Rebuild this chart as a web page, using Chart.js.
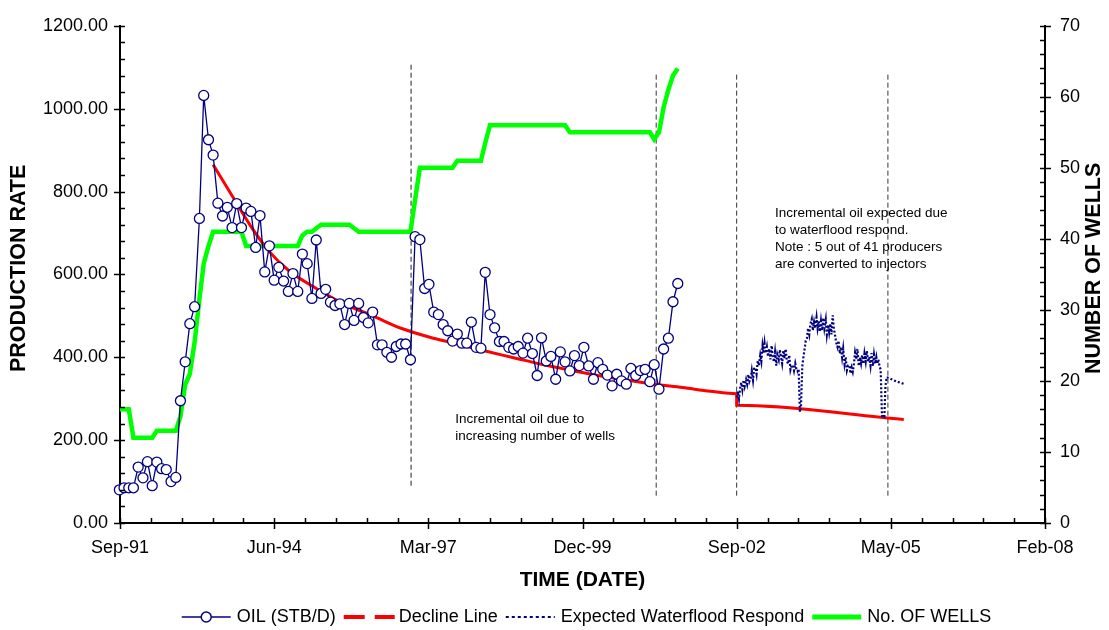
<!DOCTYPE html>
<html>
<head>
<meta charset="utf-8">
<title>Production rate and number of wells</title>
<script src="https://cdn.jsdelivr.net/npm/chart.js@4.4.1/dist/chart.umd.min.js"></script>
<style>
  html, body { margin: 0; padding: 0; background: #fff; }
  #wrap { width: 1109px; height: 630px; }
</style>
</head>
<body>
<div id="wrap"><canvas id="chart" width="1109" height="630"></canvas></div>
<script>
// monthly production data (Sep-91 .. Aug-01)
var oilMonths = [
  '1991-09', '1991-10', '1991-11', '1991-12',
  '1992-01', '1992-02', '1992-03', '1992-04', '1992-05', '1992-06', '1992-07', '1992-08', '1992-09', '1992-10', '1992-11', '1992-12',
  '1993-01', '1993-02', '1993-03', '1993-04', '1993-05', '1993-06', '1993-07', '1993-08', '1993-09', '1993-10', '1993-11', '1993-12',
  '1994-01', '1994-02', '1994-03', '1994-04', '1994-05', '1994-06', '1994-07', '1994-08', '1994-09', '1994-10', '1994-11', '1994-12',
  '1995-01', '1995-02', '1995-03', '1995-04', '1995-05', '1995-06', '1995-07', '1995-08', '1995-09', '1995-10', '1995-11', '1995-12',
  '1996-01', '1996-02', '1996-03', '1996-04', '1996-05', '1996-06', '1996-07', '1996-08', '1996-09', '1996-10', '1996-11', '1996-12',
  '1997-01', '1997-02', '1997-03', '1997-04', '1997-05', '1997-06', '1997-07', '1997-08', '1997-09', '1997-10', '1997-11', '1997-12',
  '1998-01', '1998-02', '1998-03', '1998-04', '1998-05', '1998-06', '1998-07', '1998-08', '1998-09', '1998-10', '1998-11', '1998-12',
  '1999-01', '1999-02', '1999-03', '1999-04', '1999-05', '1999-06', '1999-07', '1999-08', '1999-09', '1999-10', '1999-11', '1999-12',
  '2000-01', '2000-02', '2000-03', '2000-04', '2000-05', '2000-06', '2000-07', '2000-08', '2000-09', '2000-10', '2000-11', '2000-12',
  '2001-01', '2001-02', '2001-03', '2001-04', '2001-05', '2001-06', '2001-07', '2001-08'
];

var oilRate = [
  80, 85, 85, 85,
  135, 109, 148, 90, 147, 131, 129, 100, 110, 295, 389, 481,
  522, 735, 1032, 925, 888, 772, 741, 762, 713, 771, 713, 760,
  752, 665, 742, 606, 669, 586, 617, 584, 559, 602, 559, 649,
  626, 542, 683, 554, 564, 533, 525, 529, 479, 530, 489, 530,
  496, 483, 509, 430, 430, 412, 400, 426, 432, 432, 394, 691,
  684, 566, 576, 509, 503, 479, 464, 439, 456, 434, 434, 485,
  424, 422, 605, 503, 471, 438, 438, 424, 420, 426, 410, 446,
  409, 356, 447, 391, 402, 347, 413, 389, 367, 404, 380, 424,
  379, 347, 387, 371, 357, 331, 359, 343, 335, 373, 356, 368,
  371, 341, 382, 323, 420, 446, 534, 578
];

var wellCount = [
  16, 16, 16, 12,
  12, 12, 12, 12, 13, 13, 13, 13, 13, 15, 19.5, 21,
  25.5, 31.5, 36.5, 39, 41, 41, 41, 41, 41, 41, 41, 39,
  39, 39, 39, 39, 39, 39, 39, 39, 39, 39, 39, 40.5,
  41, 41, 41.5, 42, 42, 42, 42, 42, 42, 42, 41.5, 41,
  41, 41, 41, 41, 41, 41, 41, 41, 41, 41, 41, 45.5,
  50, 50, 50, 50, 50, 50, 50, 50, 51, 51, 51, 51,
  51, 51, 53.5, 56, 56, 56, 56, 56, 56, 56, 56, 56,
  56, 56, 56, 56, 56, 56, 56, 56, 55, 55, 55, 55,
  55, 55, 55, 55, 55, 55, 55, 55, 55, 55, 55, 55,
  55, 55, 54, 55, 58.5, 61, 63, 64
];

// decline line
var declineDates = [
  '1993-05-15', '1993-09-15', '1994-01-15', '1994-05-15', '1994-09-15', '1995-03-15',
  '1995-09-15', '1996-03-15', '1996-09-15', '1997-03-15', '1997-09-15', '1998-03-15',
  '1998-09-15', '1999-03-15', '1999-09-15', '2000-03-15', '2000-09-15', '2001-03-15',
  '2001-09-15', '2002-03-15', '2002-09-01', '2002-09-01', '2005-08-20'
];
var declineRate = [
  865, 790, 716, 655, 610, 566,
  528, 500, 470, 449, 432, 415,
  399, 383, 369, 356, 345, 335,
  327, 318, 312, 284, 250
];

// expected waterflood respond (roughly weekly readings)
var waterfloodDates = [
  '2002-09-01', '2002-09-08', '2002-09-16', '2002-09-23',
  '2002-10-01', '2002-10-08', '2002-10-16', '2002-10-23',
  '2002-11-01', '2002-11-08', '2002-11-16', '2002-11-23',
  '2002-12-01', '2002-12-08', '2002-12-16', '2002-12-23',
  '2003-01-01', '2003-01-08', '2003-01-16', '2003-01-23',
  '2003-02-01', '2003-02-08', '2003-02-16', '2003-02-23',
  '2003-03-01', '2003-03-08', '2003-03-16', '2003-03-23',
  '2003-04-01', '2003-04-08', '2003-04-16', '2003-04-23',
  '2003-05-01', '2003-05-08', '2003-05-16', '2003-05-23',
  '2003-06-01', '2003-06-08', '2003-06-16', '2003-06-23',
  '2003-07-01', '2003-07-08', '2003-07-16', '2003-07-23',
  '2003-08-01', '2003-08-08', '2003-08-16', '2003-08-23',
  '2003-09-01', '2003-09-08', '2003-09-16', '2003-09-23',
  '2003-10-01', '2003-10-08', '2003-10-16', '2003-10-23',
  '2003-11-01', '2003-11-08', '2003-11-16', '2003-11-23',
  '2003-12-01', '2003-12-08', '2003-12-16', '2003-12-23',
  '2004-01-01', '2004-01-08', '2004-01-16', '2004-01-23',
  '2004-02-01', '2004-02-08', '2004-02-16', '2004-02-23',
  '2004-03-01', '2004-03-08', '2004-03-16', '2004-03-23',
  '2004-04-01', '2004-04-08', '2004-04-16', '2004-04-23',
  '2004-05-01', '2004-05-08', '2004-05-16', '2004-05-23',
  '2004-06-01', '2004-06-08', '2004-06-16', '2004-06-23',
  '2004-07-01', '2004-07-08', '2004-07-16', '2004-07-23',
  '2004-08-01', '2004-08-08', '2004-08-16', '2004-08-23',
  '2004-09-01', '2004-09-08', '2004-09-16', '2004-09-23',
  '2004-10-01', '2004-10-08', '2004-10-16', '2004-10-23',
  '2004-11-01', '2004-11-08', '2004-11-16', '2004-11-23',
  '2004-12-01', '2004-12-08', '2004-12-16', '2004-12-23',
  '2005-01-01', '2005-01-08', '2005-01-16', '2005-01-23',
  '2005-02-01', '2005-02-08', '2005-02-16', '2005-02-23',
  '2005-03-01', '2005-03-08', '2005-03-16', '2005-03-23',
  '2005-04-01', '2005-04-08', '2005-04-16', '2005-04-23',
  '2005-05-01', '2005-06-01', '2005-07-01', '2005-08-20'
];
var waterfloodRate = [
  303, 318, 300, 325,
  339, 322, 345, 330,
  346, 335, 358, 342,
  350, 368, 345, 372,
  375, 360, 392, 380,
  405, 390, 428, 410,
  433, 410, 425, 402,
  420, 395, 428, 400,
  389, 412, 380, 406,
  394, 418, 400, 385,
  416, 398, 420, 392,
  384, 405, 370, 380,
  381, 368, 385, 372,
  366, 372, 268, 280,
  380, 400, 421, 440,
  446, 470, 455, 480,
  492, 465, 485, 470,
  496, 470, 488, 462,
  487, 465, 495, 470,
  491, 455, 478, 460,
  481, 455, 501, 470,
  451, 435, 425, 440,
  409, 425, 400, 421,
  384, 400, 369, 380,
  381, 361, 375, 365,
  386, 411, 395, 420,
  379, 400, 385, 405,
  384, 409, 390, 415,
  389, 401, 380, 410,
  379, 406, 385, 400,
  384, 395, 378, 370,
  253, 262, 258, 330,
  352, 347, 342, 336
];

// dashed event lines
var markerDates = ['1996-11-19', '2001-03-28', '2002-09-01', '2005-05-09'];
var markerBottom = [90, 66, 66, 66];
var markerTop = [1110, 1086, 1086, 1086];

var FONT = "'Liberation Sans', Arial, Helvetica, sans-serif";
var MONTHS = ['Jan', 'Feb', 'Mar', 'Apr', 'May', 'Jun', 'Jul', 'Aug', 'Sep', 'Oct', 'Nov', 'Dec'];
var NAVY = '#000080';

// dates are kept as spreadsheet serial day numbers on a linear axis
function toSerial(s) {
  var p = s.split('-').map(Number);
  return (Date.UTC(p[0], p[1] - 1, p[2] || 15) - Date.UTC(1899, 11, 30)) / 86400000;
}
function serialLabel(v) {
  var d = new Date(Date.UTC(1899, 11, 30) + v * 86400000);
  return MONTHS[d.getUTCMonth()] + '-' + String(d.getUTCFullYear()).slice(2);
}
function toPoints(dates, values) {
  return dates.map(function (d, i) { return { x: toSerial(d), y: values[i] }; });
}

var datasets = [
  {
    label: 'OIL (STB/D)',
    data: toPoints(oilMonths, oilRate),
    yAxisID: 'y',
    borderColor: NAVY,
    borderWidth: 1.3,
    pointRadius: 5,
    pointBorderWidth: 1.3,
    pointBorderColor: NAVY,
    pointBackgroundColor: '#fff',
    tension: 0,
    clip: false,
    order: 0
  },
  {
    label: 'Expected Waterflood Respond',
    data: toPoints(waterfloodDates, waterfloodRate),
    yAxisID: 'y',
    borderColor: NAVY,
    borderWidth: 2.2,
    borderDash: [2, 2],
    pointRadius: 0,
    tension: 0,
    order: 1
  },
  {
    label: 'Decline Line',
    data: toPoints(declineDates, declineRate),
    yAxisID: 'y',
    borderColor: '#ff0000',
    borderWidth: 3,
    pointRadius: 0,
    cubicInterpolationMode: 'monotone',
    order: 2
  },
  {
    label: 'No. OF WELLS',
    data: toPoints(oilMonths, wellCount),
    yAxisID: 'y1',
    borderColor: '#00ff00',
    borderWidth: 4.5,
    pointRadius: 0,
    tension: 0,
    order: 3
  }
];

markerDates.forEach(function (d, i) {
  datasets.push({
    label: 'marker',
    data: [{ x: toSerial(d), y: markerBottom[i] }, { x: toSerial(d), y: markerTop[i] }],
    yAxisID: 'y',
    borderColor: i === 0 ? '#222' : '#333',
    borderWidth: 1,
    borderDash: [5, 3],
    pointRadius: 0,
    order: 4
  });
});

var notes = [
  { date: '1997-09-01', value: 251, lines: ['Incremental oil due to', 'increasing number of wells'] },
  { date: '2003-05-07', value: 747, lines: ['Incremental oil expected due', 'to waterflood respond.', 'Note : 5 out of 41 producers', 'are converted to injectors'] }
];

var minorSteps = { x: 200, y: 40, y1: 2 };

function drawTickMarks(chart) {
  var ctx = chart.ctx;
  ctx.save();
  ctx.strokeStyle = '#000';
  ctx.lineWidth = 1.5;
  ['x', 'y', 'y1'].forEach(function (id) {
    var s = chart.scales[id];
    var major = s.options.ticks.stepSize;
    var minor = minorSteps[id];
    for (var v = s.min; v <= s.max + 1e-6; v += minor) {
      var q = (v - s.min) / major;
      var isMajor = Math.abs(q - Math.round(q)) < 1e-6;
      var p = Math.round(s.getPixelForValue(v)) + 0.5;
      ctx.beginPath();
      if (id === 'x') {
        ctx.moveTo(p, s.top - 5);
        ctx.lineTo(p, s.top + (isMajor ? 6 : 0));
      } else if (id === 'y') {
        ctx.moveTo(s.right - (isMajor ? 6 : 0), p);
        ctx.lineTo(s.right + 5, p);
      } else {
        ctx.moveTo(s.left - 5, p);
        ctx.lineTo(s.left + (isMajor ? 6 : 0), p);
      }
      ctx.stroke();
    }
  });
  ctx.restore();
}

function drawNotes(chart) {
  var ctx = chart.ctx;
  var xs = chart.scales.x, ys = chart.scales.y;
  ctx.save();
  ctx.fillStyle = '#000';
  ctx.font = '13.5px ' + FONT;
  ctx.textAlign = 'left';
  ctx.textBaseline = 'middle';
  notes.forEach(function (n) {
    var x = xs.getPixelForValue(toSerial(n.date));
    var y = ys.getPixelForValue(n.value);
    n.lines.forEach(function (line, i) { ctx.fillText(line, x, y + i * 16.8); });
  });
  ctx.restore();
}

// both value-axis titles read bottom to top
function drawAxisTitles(chart) {
  var ctx = chart.ctx, area = chart.chartArea;
  var midY = (area.top + area.bottom) / 2 - 6;
  [['PRODUCTION RATE', chart.scales.y.left + 19], ['NUMBER OF WELLS', chart.scales.y1.right - 15]].forEach(function (t) {
    ctx.save();
    ctx.translate(t[1], midY);
    ctx.rotate(-Math.PI / 2);
    ctx.font = 'bold 21.5px ' + FONT;
    ctx.fillStyle = '#000';
    ctx.textAlign = 'center';
    ctx.textBaseline = 'middle';
    ctx.fillText(t[0], 0, 0);
    ctx.restore();
  });
}

function drawLegend(chart) {
  var ctx = chart.ctx, area = chart.chartArea;
  var sampleW = 49, gapText = 6, gapItem = 8, y = 617;
  var items = [
    { text: 'OIL (STB/D)', sample: function (x) {
      ctx.strokeStyle = NAVY; ctx.lineWidth = 1.5; ctx.setLineDash([]);
      ctx.beginPath(); ctx.moveTo(x, y); ctx.lineTo(x + sampleW, y); ctx.stroke();
      ctx.fillStyle = '#fff';
      ctx.beginPath(); ctx.arc(x + sampleW / 2, y, 5, 0, Math.PI * 2); ctx.fill(); ctx.stroke();
    } },
    { text: 'Decline Line', sample: function (x) {
      ctx.strokeStyle = '#ff0000'; ctx.lineWidth = 4; ctx.setLineDash([21, 10]);
      ctx.beginPath(); ctx.moveTo(x, y); ctx.lineTo(x + sampleW + 2, y); ctx.stroke();
    } },
    { text: 'Expected Waterflood Respond', sample: function (x) {
      ctx.strokeStyle = NAVY; ctx.lineWidth = 2; ctx.setLineDash([3, 3]);
      ctx.beginPath(); ctx.moveTo(x, y); ctx.lineTo(x + sampleW, y); ctx.stroke();
    } },
    { text: 'No. OF WELLS', sample: function (x) {
      ctx.strokeStyle = '#00ff00'; ctx.lineWidth = 5; ctx.setLineDash([]);
      ctx.beginPath(); ctx.moveTo(x, y); ctx.lineTo(x + sampleW, y); ctx.stroke();
    } }
  ];
  ctx.save();
  ctx.font = '18px ' + FONT;
  var total = 0;
  items.forEach(function (it, i) {
    it.w = ctx.measureText(it.text).width;
    total += sampleW + gapText + it.w + (i ? gapItem : 0);
  });
  var x = (area.left + area.right) / 2 + 4 - total / 2;
  items.forEach(function (it) {
    ctx.save();
    it.sample(x);
    ctx.restore();
    ctx.fillStyle = '#000';
    ctx.textAlign = 'left';
    ctx.textBaseline = 'middle';
    ctx.fillText(it.text, x + sampleW + gapText, y);
    x += sampleW + gapText + it.w + gapItem;
  });
  ctx.restore();
}

var extras = {
  id: 'extras',
  afterDraw: function (chart) {
    drawTickMarks(chart);
    drawNotes(chart);
    drawAxisTitles(chart);
    drawLegend(chart);
  }
};

Chart.defaults.font.family = FONT;
Chart.defaults.font.size = 18;
Chart.defaults.color = '#000';

var chartContext = document.getElementById('chart');
var chart = new Chart(chartContext, {
  type: 'line',
  data: { datasets: datasets },
  options: {
    responsive: false,
    animation: false,
    layout: { padding: { top: 17, bottom: 32, left: 0, right: 0 } },
    plugins: {
      legend: { display: false },
      tooltip: { enabled: false }
    },
    scales: {
      x: {
        type: 'linear',
        min: 33500,
        max: 39500,
        grid: { drawOnChartArea: false, drawTicks: false },
        border: { color: '#000', width: 2 },
        ticks: {
          stepSize: 1000,
          padding: 14,
          maxRotation: 0,
          autoSkip: false,
          callback: function (v) { return serialLabel(v); }
        },
        title: {
          display: true,
          text: 'TIME (DATE)',
          font: { size: 21, weight: 'bold' },
          padding: { top: 0, bottom: 5 }
        },
        afterFit: function (scale) { scale.height = 75; }
      },
      y: {
        position: 'left',
        min: 0,
        max: 1200,
        grid: { drawOnChartArea: false, drawTicks: false },
        border: { color: '#000', width: 2 },
        ticks: {
          stepSize: 200,
          padding: 12,
          callback: function (v) { return Number(v).toFixed(2); }
        },
        afterFit: function (scale) { scale.width = 120; }
      },
      y1: {
        position: 'right',
        min: 0,
        max: 70,
        grid: { drawOnChartArea: false, drawTicks: false },
        border: { color: '#000', width: 2 },
        ticks: { stepSize: 10, padding: 15 },
        afterFit: function (scale) { scale.width = 64; }
      }
    }
  },
  plugins: [extras]
});
</script>
</body>
</html>
